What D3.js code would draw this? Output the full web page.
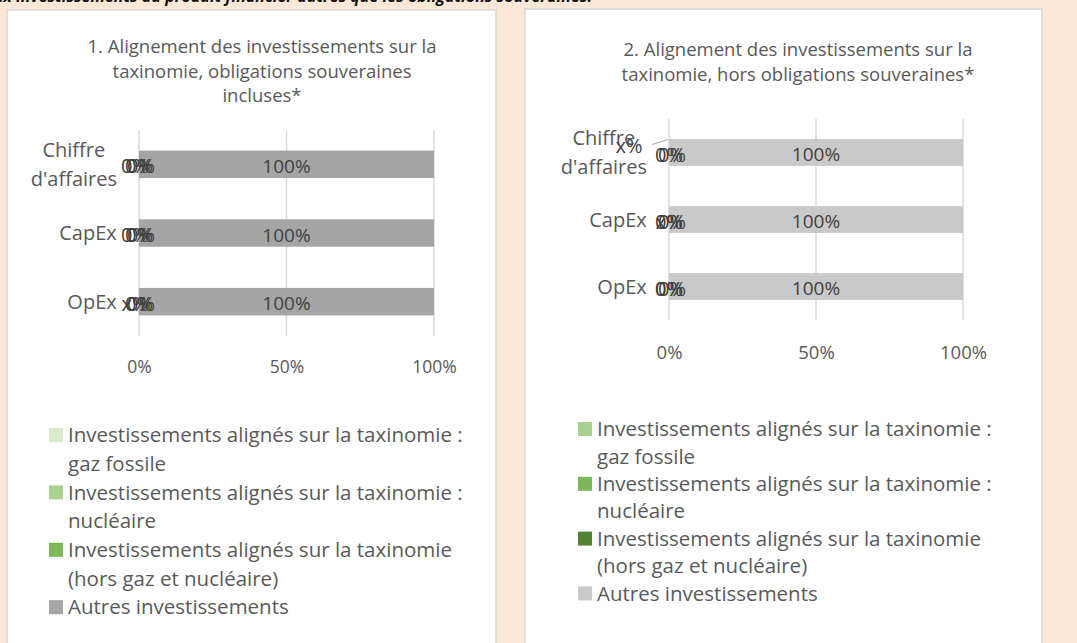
<!DOCTYPE html>
<html lang="fr">
<head>
<meta charset="UTF-8">
<title>Alignement sur la taxinomie</title>
<script src="https://cdn.jsdelivr.net/npm/d3@7"></script>
<style>
    body, html {
        margin: 0;
        padding: 0;
        background: #fbe8d7;
        overflow: hidden;
    }
    svg text {
        font-family: "Open Sans", "Noto Sans", sans-serif;
    }
</style>
</head>
<body>
<div id="chart"></div>
<script>
// --- data ---
const categories = ["Chiffre d'affaires", "CapEx", "OpEx"];
const categoryLines = [["Chiffre", "d'affaires"], ["CapEx"], ["OpEx"]];
const seriesKeys = ["gaz", "nucleaire", "hors", "autres"];
const legendLines = [
    ["Investissements alignés sur la taxinomie :", "gaz fossile"],
    ["Investissements alignés sur la taxinomie :", "nucléaire"],
    ["Investissements alignés sur la taxinomie", "(hors gaz et nucléaire)"],
    ["Autres investissements"]
];
const xTicks = [0, 0.5, 1];

// chart 1: obligations souveraines incluses
const chart1Title = ["1. Alignement des investissements sur la", "taxinomie, obligations souveraines", "incluses*"];
const chart1Gaz = [0, 0, 0];
const chart1Nucleaire = [0, 0, 0];
const chart1Hors = [0, 0, 0];
const chart1Autres = [100, 100, 100];
const chart1Labels = [["0%", "0%", "x%"], ["0%", "0%", "0%"], ["0%", "0%", "0%"], ["100%", "100%", "100%"]];
const chart1Colors = ["#d7eacb", "#a9d18e", "#7cb956", "#a5a5a5"];

// chart 2: hors obligations souveraines
const chart2Title = ["2. Alignement des investissements sur la", "taxinomie, hors obligations souveraines*"];
const chart2Gaz = [0, 0, 0];
const chart2Nucleaire = [0, 0, 0];
const chart2Hors = [0, 0, 0];
const chart2Autres = [100, 100, 100];
const chart2Labels = [["x%", "x%", "0%"], ["0%", "0%", "0%"], ["0%", "0%", "0%"], ["100%", "100%", "100%"]];
const chart2Colors = ["#a9d18e", "#7cb857", "#548235", "#c9c9c9"];

const topText = "uniquement par rapport aux investissements du produit financier autres que les obligations souveraines.";

(function() {
    const W = 1077, H = 643;
    const svg = d3.select("#chart").append("svg")
        .attr("width", W).attr("height", H);

    svg.append("rect").attr("width", W).attr("height", H).attr("fill", "#fbe8d7");

    // cut-off paragraph above the panels
    svg.append("text")
        .attr("x", 592).attr("y", 2)
        .attr("text-anchor", "end")
        .attr("font-size", 16)
        .attr("font-weight", "bold")
        .attr("font-style", "italic")
        .attr("fill", "#111")
        .text(topText);

    function rowsFrom(g, n, h, a) {
        return categories.map((c, i) => ({cat: c, i: i, gaz: g[i], nucleaire: n[i], hors: h[i], autres: a[i]}));
    }

    function drawChart(cfg) {
        const g = svg.append("g");

        g.append("rect")
            .attr("x", cfg.panel[0]).attr("y", cfg.panel[1])
            .attr("width", cfg.panel[2]).attr("height", cfg.panel[3])
            .attr("fill", "#fff")
            .attr("stroke", "#d9d9d9")
            .attr("stroke-width", 1.6);

        // title
        g.append("g").selectAll("text")
            .data(cfg.title)
            .enter().append("text")
            .attr("x", cfg.titleX)
            .attr("y", (d, i) => cfg.titleY + i * 24.5)
            .attr("text-anchor", "middle")
            .attr("font-size", 18.5)
            .attr("fill", "#595959")
            .text(d => d);

        const x = d3.scaleLinear().domain([0, 1]).range(cfg.xRange);
        const y = d3.scaleBand().domain(categories).range(cfg.yRange)
            .paddingInner(0.6).paddingOuter(0.3);

        // gridlines
        g.append("g").selectAll("line")
            .data(xTicks)
            .enter().append("line")
            .attr("x1", d => x(d)).attr("x2", d => x(d))
            .attr("y1", cfg.yRange[0]).attr("y2", cfg.yRange[1])
            .attr("stroke", "#d9d9d9")
            .attr("stroke-width", 1.5);

        // x axis labels
        const axis = g.append("g")
            .attr("transform", `translate(0,${cfg.tickY})`)
            .call(d3.axisBottom(x).tickValues(xTicks).tickFormat(d3.format(".0%")).tickSize(0).tickPadding(0));
        axis.select(".domain").remove();
        axis.selectAll("text")
            .attr("dy", "0.35em")
            .attr("font-size", cfg.tickSize)
            .attr("font-family", "'Open Sans', sans-serif")
            .attr("fill", "#595959");

        // stacked bars
        const rows = rowsFrom(cfg.gaz, cfg.nucleaire, cfg.hors, cfg.autres);
        const stacked = d3.stack().keys(seriesKeys)(rows);

        g.append("g").selectAll("g")
            .data(stacked)
            .enter().append("g")
            .attr("fill", (d, i) => cfg.colors[i])
            .selectAll("rect")
            .data(d => d)
            .enter().append("rect")
            .attr("x", d => x(d[0] / 100))
            .attr("width", d => x(d[1] / 100) - x(d[0] / 100))
            .attr("y", d => y(d.data.cat))
            .attr("height", y.bandwidth());

        // category labels: lines centred on each other, block right-aligned
        const cats = g.append("g").selectAll("text")
            .data(categories)
            .enter().append("text")
            .attr("text-anchor", "middle")
            .attr("font-size", 20)
            .attr("fill", "#595959");
        cats.each(function(c, i) {
            const lines = categoryLines[i];
            const cy = y(c) + y.bandwidth() / 2;
            d3.select(this).selectAll("tspan")
                .data(lines)
                .enter().append("tspan")
                .attr("x", 0)
                .attr("y", (d, k) => cy + (k - (lines.length - 1) / 2) * 28.5)
                .attr("dy", "0.35em")
                .text(d => d);
        });
        cats.each(function() {
            const bb = this.getBBox();
            d3.select(this).selectAll("tspan").attr("x", cfg.catRight - bb.width / 2);
        });

        // data labels
        const lab = g.append("g");
        stacked.forEach((s, si) => {
            s.forEach((d, ci) => {
                const text = cfg.labels[si][ci];
                const cx = (x(d[0] / 100) + x(d[1] / 100)) / 2;
                const cy = y(d.data.cat) + y.bandwidth() / 2;
                const moved = cfg.moved && cfg.moved[0] === si && cfg.moved[1] === ci;
                const lx = moved ? cx - 40 : cx + cfg.labelDx[si];
                const ly = moved ? cy - 7 : cy + 2;
                if (moved) {
                    lab.append("line")
                        .attr("x1", cx - 17).attr("y1", cy - 8)
                        .attr("x2", cx - 1).attr("y2", cy - 13)
                        .attr("stroke", "#a6a6a6")
                        .attr("stroke-width", 1);
                }
                lab.append("text")
                    .attr("x", lx).attr("y", ly)
                    .attr("dy", "0.35em")
                    .attr("text-anchor", "middle")
                    .attr("font-size", si === 3 ? 19 : 20)
                    .attr("fill", "#404040")
                    .text(text);
            });
        });

        // legend
        let line = 0;
        const leg = g.append("g");
        legendLines.forEach((lines, i) => {
            const ly = cfg.legendY + line * cfg.legendStep;
            leg.append("rect")
                .attr("x", cfg.legendX).attr("y", ly - 7)
                .attr("width", 14).attr("height", 14)
                .attr("fill", cfg.colors[i]);
            lines.forEach((t, k) => {
                leg.append("text")
                    .attr("x", cfg.legendX + 19)
                    .attr("y", ly + k * cfg.legendStep)
                    .attr("dy", "0.35em")
                    .attr("font-size", 20.5)
                    .attr("fill", "#595959")
                    .text(t);
            });
            line += lines.length;
        });
    }

    drawChart({
        panel: [7, 10, 489, 640],
        title: chart1Title, titleX: 262, titleY: 53,
        xRange: [139, 434], yRange: [130, 336],
        tickY: 367, tickSize: 17.5, catRight: 117,
        gaz: chart1Gaz, nucleaire: chart1Nucleaire, hors: chart1Hors, autres: chart1Autres,
        labels: chart1Labels, labelDx: [-4, 2, 0, 0], colors: chart1Colors,
        legendX: 49, legendY: 435, legendStep: 28.7
    });

    drawChart({
        panel: [525, 9, 517, 640],
        title: chart2Title, titleX: 798, titleY: 56,
        xRange: [669, 963], yRange: [119, 320],
        tickY: 353, tickSize: 18.5, catRight: 647,
        gaz: chart2Gaz, nucleaire: chart2Nucleaire, hors: chart2Hors, autres: chart2Autres,
        labels: chart2Labels, labelDx: [0, 0, 3, 0], colors: chart2Colors,
        moved: [0, 0],
        legendX: 578, legendY: 429, legendStep: 27.4
    });
})();
</script>
</body>
</html>
